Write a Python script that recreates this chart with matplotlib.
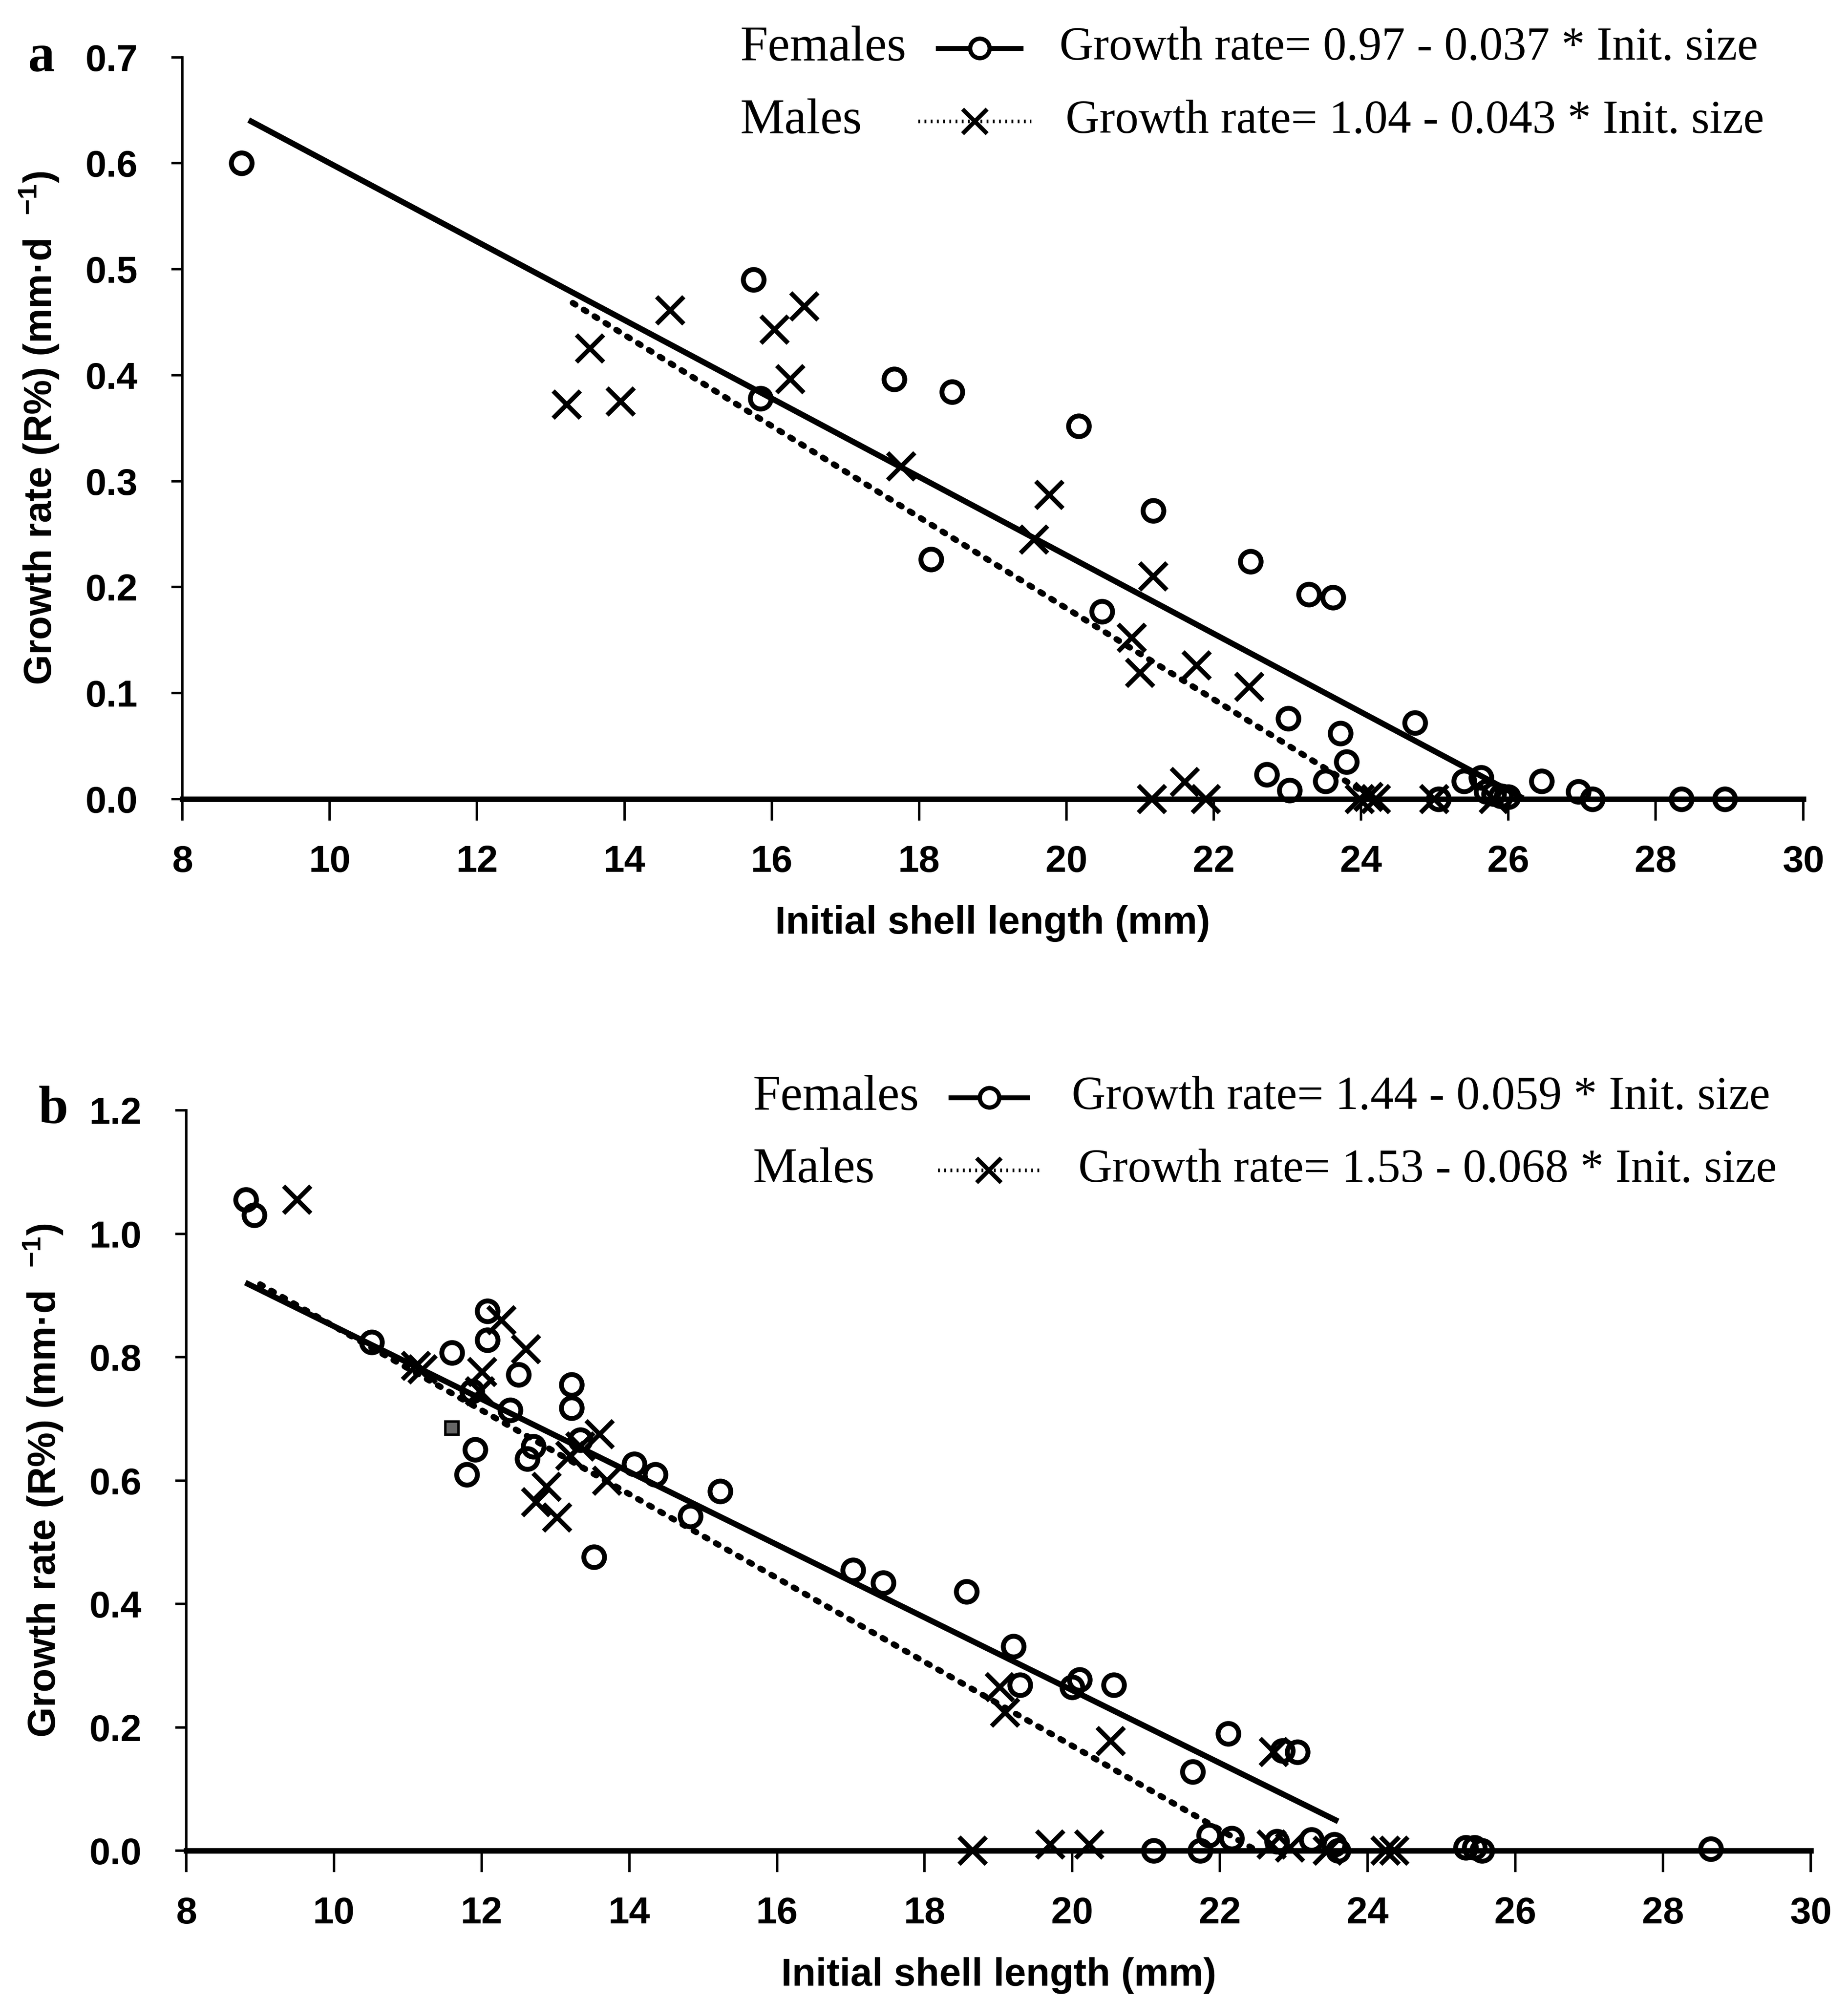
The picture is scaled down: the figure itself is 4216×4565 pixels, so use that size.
import numpy as np
import matplotlib
matplotlib.use('Agg')
import matplotlib.pyplot as plt
from matplotlib.lines import Line2D

plt.rcParams['mathtext.default'] = 'regular'

# ---- panel a data ----
a_fem_x = [8.8, 15.75, 15.85, 17.66, 18.45, 18.16, 20.17, 21.18, 20.48, 22.5, 23.29, 23.62,
           24.73, 23.01, 23.72, 23.8, 22.72, 23.03, 23.52, 25.4, 25.63, 25.7, 25.8, 25.9,
           26.0, 26.45, 26.95, 27.14, 28.35, 28.94, 25.05]
a_fem_y = [0.60, 0.49, 0.378, 0.396, 0.384, 0.226, 0.352, 0.272, 0.177, 0.224, 0.193, 0.19,
           0.072, 0.076, 0.062, 0.035, 0.023, 0.008, 0.017, 0.017, 0.02, 0.007, 0.005, 0.003,
           0.002, 0.017, 0.007, 0.0, 0.0, 0.0, 0.0]
a_male_x = [13.22, 13.53, 13.95, 14.62, 16.04, 16.44, 16.25, 17.76, 19.77, 19.56, 21.18, 20.89,
            21.0, 21.77, 22.48, 21.16, 21.61, 21.89, 23.98, 24.1, 24.2, 24.99, 25.8]
a_male_y = [0.372, 0.425, 0.375, 0.461, 0.443, 0.465, 0.396, 0.314, 0.287, 0.245, 0.21, 0.152,
            0.119, 0.126, 0.106, 0.0, 0.016, 0.0, 0.0, 0.002, 0.0, 0.0, 0.0]
a_fem_coef = (0.97, 0.037)
a_male_coef = (1.04, 0.043)
a_fem_range = (8.9, 26.2)
a_male_range = (13.3, 24.2)

# ---- panel b data ----
b_fem_x = [8.81, 8.92, 10.51, 11.6, 12.08, 12.08, 11.87, 11.91, 11.8, 12.5, 12.39, 12.62, 12.7,
           13.22, 13.22, 13.34, 13.52, 14.07, 14.35, 14.83, 15.23, 17.03, 17.44, 18.57, 19.2,
           19.29, 20.0, 20.1, 20.56, 21.63, 22.11, 22.85, 23.05, 21.1, 21.73, 21.85, 22.16,
           22.77, 23.24, 23.55, 23.6, 25.33, 25.45, 25.55, 28.65]
b_fem_y = [1.055, 1.03, 0.824, 0.807, 0.875, 0.828, 0.745, 0.65, 0.61, 0.772, 0.714, 0.635, 0.655,
           0.755, 0.718, 0.666, 0.476, 0.627, 0.61, 0.542, 0.583, 0.455, 0.434, 0.42, 0.331,
           0.269, 0.265, 0.277, 0.269, 0.128, 0.19, 0.162, 0.16, 0.0, 0.0, 0.025, 0.02,
           0.015, 0.018, 0.01, 0.0, 0.005, 0.005, 0.0, 0.003]
b_male_x = [9.5, 11.11, 11.2, 12.01, 12.27, 12.6, 11.98, 12.74, 12.88, 13.02, 13.2, 13.34, 13.6,
            13.7, 19.02, 19.09, 20.52, 22.73, 18.65, 19.7, 20.23, 22.7, 22.95, 23.46, 24.24, 24.36]
b_male_y = [1.055, 0.786, 0.78, 0.776, 0.86, 0.813, 0.745, 0.565, 0.59, 0.54, 0.64, 0.655, 0.675,
            0.6, 0.265, 0.224, 0.178, 0.16, 0.0, 0.01, 0.01, 0.01, 0.005, 0.0, 0.0, 0.0]
b_odd_x = [11.6]
b_odd_y = [0.685]
b_fem_coef = (1.44, 0.059)
b_male_coef = (1.53, 0.068)
b_fem_range = (8.8, 23.6)
b_male_range = (9.0, 22.5)

x_ticks = list(range(8, 31, 2))
a_yticks = [0.0, 0.1, 0.2, 0.3, 0.4, 0.5, 0.6, 0.7]
b_yticks = [0.0, 0.2, 0.4, 0.6, 0.8, 1.0, 1.2]

SANS = ['Liberation Sans']
SERIF = ['Liberation Serif']

fig = plt.figure(figsize=(42.16, 45.65), dpi=100)


def draw_panel(ax, fx, fy, mx, my, fcoef, mcoef, frange, mrange, yticks, ylim):
    xs = np.linspace(*frange, 50)
    ax.plot(xs, fcoef[0] - fcoef[1] * xs, color='black', lw=9.5, solid_capstyle='butt')
    xs = np.linspace(*mrange, 50)
    ax.plot(xs, mcoef[0] - mcoef[1] * xs, color='black', lw=10, linestyle=(0, (0.5, 1.6)),
            dash_capstyle='round')
    ax.plot(fx, fy, 'o', ms=34, mfc='none', mec='black', mew=8, clip_on=False)
    ax.plot(mx, my, 'x', ms=44, mec='black', mew=7.5, clip_on=False)
    ax.set_xlim(8, 30)
    ax.set_ylim(*ylim)
    ax.set_xticks(x_ticks)
    ax.set_yticks(yticks)
    ax.set_xticklabels([str(t) for t in x_ticks])
    ax.set_yticklabels(['%.1f' % t for t in yticks])
    for lab in ax.get_xticklabels() + ax.get_yticklabels():
        lab.set_family(SANS)
        lab.set_fontweight('bold')
        lab.set_fontsize(62)
    ax.spines['top'].set_visible(False)
    ax.spines['right'].set_visible(False)
    ax.spines['left'].set_linewidth(4)
    ax.spines['bottom'].set_linewidth(9)
    ax.tick_params(axis='x', direction='out', length=35, width=4, pad=40)
    ax.tick_params(axis='y', direction='out', length=18, width=4, pad=55)
    ax.set_xlabel('Initial shell length (mm)', family=SANS, fontweight='bold', fontsize=64,
                  labelpad=42)
    ax.set_ylabel('Growth rate (R%) (mm·d  $^{-1}$)', family=SANS, fontweight='bold',
                  fontsize=64, labelpad=40)


ax_a = fig.add_axes([0.0987, 0.6007, 0.877, 0.3707])
draw_panel(ax_a, a_fem_x, a_fem_y, a_male_x, a_male_y, a_fem_coef, a_male_coef,
           a_fem_range, a_male_range, a_yticks, (0, 0.7))

ax_b = fig.add_axes([0.1008, 0.0751, 0.879, 0.370])
draw_panel(ax_b, b_fem_x, b_fem_y, b_male_x, b_male_y, b_fem_coef, b_male_coef,
           b_fem_range, b_male_range, b_yticks, (0, 1.2))
ax_b.plot(b_odd_x, b_odd_y, 's', ms=22, mfc='0.4', mec='black', mew=4)

# panel letters
fig.text(0.0152, 0.971, 'a', family=SERIF, fontweight='bold', fontsize=88, va='center')
fig.text(0.0207, 0.4452, 'b', family=SERIF, fontweight='bold', fontsize=88, va='center')


def eq_text(coef):
    return 'Growth rate= %.2f - %.3f * Init. size' % coef


def legend_rows(rows):
    for (label, yy, hx0, hx1, ex, eq, style) in rows:
        fig.text(label[0], yy, label[1], family=SERIF, fontsize=82, va='center')
        if style == 'f':
            fig.add_artist(Line2D([hx0, hx1], [yy, yy], color='black', lw=8,
                                  transform=fig.transFigure))
            fig.add_artist(Line2D([(hx0 + hx1) / 2], [yy], marker='o', ms=32, mfc='white',
                                  mec='black', mew=7, transform=fig.transFigure))
        else:
            fig.add_artist(Line2D([hx0, hx1], [yy, yy], color='black', lw=6,
                                  linestyle=(0, (0.5, 1.2)), transform=fig.transFigure))
            fig.add_artist(Line2D([(hx0 + hx1) / 2], [yy], marker='x', ms=40, mec='black',
                                  mew=7, transform=fig.transFigure))
        fig.text(ex, yy, eq, family=SERIF, fontsize=77, va='center')


legend_rows([
    ((0.4006, 'Females'), 0.9758, 0.5076, 0.5525, 0.5732, eq_text(a_fem_coef), 'f'),
    ((0.4006, 'Males'), 0.9394, 0.4970, 0.5580, 0.5767, eq_text(a_male_coef), 'm'),
    ((0.4075, 'Females'), 0.4515, 0.5145, 0.5560, 0.5800, eq_text(b_fem_coef), 'f'),
    ((0.4075, 'Males'), 0.4152, 0.5076, 0.5628, 0.5836, eq_text(b_male_coef), 'm'),
])

fig.savefig('out.png', dpi=100)
